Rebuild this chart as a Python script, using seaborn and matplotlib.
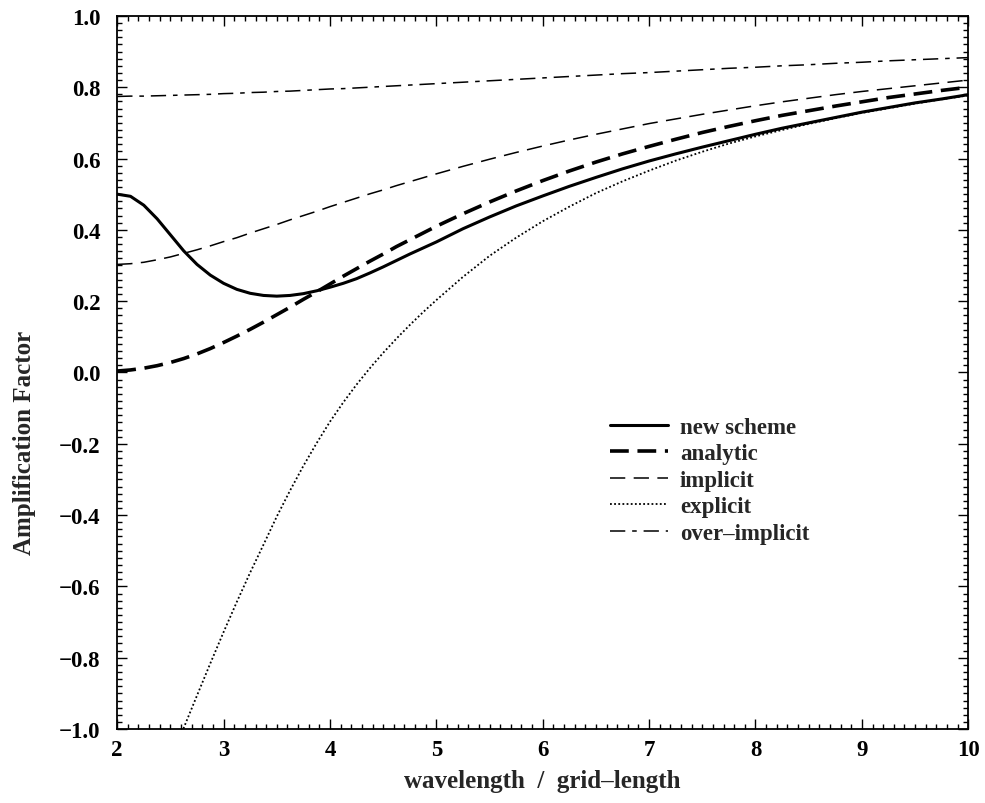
import numpy as np
import pandas as pd
import matplotlib
matplotlib.use("Agg")
import matplotlib.pyplot as plt
import seaborn as sns
from matplotlib.ticker import MultipleLocator

# wavelength / grid-length
wavelength = [2.0, 2.125, 2.25, 2.375, 2.5, 2.625, 2.75, 2.875, 3.0, 3.125, 3.25, 3.375,
              3.5, 3.625, 3.75, 3.875, 4.0, 4.125, 4.25, 4.375, 4.5, 4.625, 4.75, 4.875,
              5.0, 5.25, 5.5, 5.75, 6.0, 6.25, 6.5, 6.75, 7.0, 7.25, 7.5, 7.75,
              8.0, 8.25, 8.5, 8.75, 9.0, 9.25, 9.5, 9.75, 10.0]

new_scheme = [0.500, 0.494, 0.469, 0.431, 0.386, 0.341, 0.303, 0.273, 0.250, 0.233, 0.222, 0.216,
              0.214, 0.216, 0.221, 0.229, 0.239, 0.250, 0.263, 0.279, 0.296, 0.314, 0.332, 0.349,
              0.366, 0.403, 0.436, 0.467, 0.495, 0.522, 0.547, 0.571, 0.593, 0.613, 0.632, 0.650,
              0.668, 0.685, 0.700, 0.715, 0.730, 0.743, 0.756, 0.767, 0.779]

analytic = [0.004, 0.007, 0.012, 0.019, 0.028, 0.039, 0.052, 0.067, 0.084, 0.102, 0.121, 0.141,
            0.162, 0.183, 0.205, 0.226, 0.248, 0.270, 0.291, 0.312, 0.332, 0.353, 0.372, 0.391,
            0.410, 0.445, 0.478, 0.509, 0.538, 0.565, 0.590, 0.613, 0.634, 0.654, 0.673, 0.690,
            0.706, 0.721, 0.734, 0.747, 0.759, 0.771, 0.781, 0.791, 0.800]

implicit = [0.303, 0.305, 0.309, 0.316, 0.324, 0.334, 0.344, 0.355, 0.367, 0.378, 0.391, 0.403,
            0.415, 0.428, 0.440, 0.452, 0.465, 0.477, 0.489, 0.501, 0.512, 0.524, 0.535, 0.546,
            0.557, 0.578, 0.598, 0.617, 0.635, 0.652, 0.668, 0.683, 0.698, 0.711, 0.724, 0.736,
            0.748, 0.759, 0.769, 0.779, 0.788, 0.796, 0.804, 0.812, 0.820]

explicit = [-1.304, -1.284, -1.235, -1.165, -1.084, -0.997, -0.906, -0.816, -0.728, -0.643, -0.561, -0.483,
            -0.404, -0.331, -0.262, -0.198, -0.138, -0.084, -0.034, 0.012, 0.055, 0.095, 0.133, 0.169,
            0.203, 0.268, 0.327, 0.378, 0.424, 0.465, 0.503, 0.536, 0.566, 0.594, 0.619, 0.642,
            0.662, 0.680, 0.697, 0.713, 0.728, 0.741, 0.754, 0.766, 0.777]

over_implicit = [0.774, 0.775, 0.775, 0.776, 0.777, 0.778, 0.779, 0.780, 0.782, 0.783, 0.785, 0.786,
                 0.788, 0.789, 0.791, 0.793, 0.795, 0.796, 0.798, 0.800, 0.802, 0.804, 0.806, 0.808,
                 0.810, 0.814, 0.818, 0.822, 0.826, 0.830, 0.834, 0.838, 0.841, 0.845, 0.849, 0.853,
                 0.856, 0.860, 0.863, 0.867, 0.870, 0.874, 0.877, 0.880, 0.883]

series_names = ["new scheme", "analytic", "implicit", "explicit", "over\u2013implicit"]

sns.set_style("ticks")
plt.rcParams["font.family"] = ["Liberation Serif", "DejaVu Serif"]
plt.rcParams["font.weight"] = "bold"
plt.rcParams["axes.labelweight"] = "bold"
plt.rcParams["axes.unicode_minus"] = True

fig = plt.figure(figsize=(9.85, 8.04), dpi=100)
ax = fig.add_axes([0.119, 0.092, 0.864, 0.887])

styles = [
    dict(lw=2.2, linestyle="-"),
    dict(lw=2.6, linestyle=(0, (5.2, 2.4))),
    dict(lw=1.1, linestyle=(0, (10, 5.5))),
    dict(lw=1.3, linestyle=(0, (1.0, 1.3))),
    dict(lw=1.1, linestyle=(0, (10, 4.5, 3, 4.5))),
]
data = [new_scheme, analytic, implicit, explicit, over_implicit]

for name, vals, st in zip(series_names, data, styles):
    sns.lineplot(x=wavelength, y=vals, ax=ax, color="black", label=name, **st)

ax.set_xlim(2, 10)
ax.set_ylim(-1.0, 1.0)
ax.xaxis.set_major_locator(MultipleLocator(1))
ax.xaxis.set_minor_locator(MultipleLocator(0.1))
ax.yaxis.set_major_locator(MultipleLocator(0.2))
ax.yaxis.set_minor_locator(MultipleLocator(0.02))
ax.tick_params(which="both", direction="in", top=True, right=True, width=1.0,
               labelsize=16.5, colors="black")
ax.tick_params(which="major", length=7)
ax.tick_params(which="minor", length=3.5)
ax.tick_params(axis="y", which="major", pad=12)
ax.tick_params(axis="x", which="major", pad=7)
for lab in ax.get_xticklabels() + ax.get_yticklabels():
    lab.set_fontweight("bold")
for sp in ax.spines.values():
    sp.set_linewidth(1.3)
    sp.set_color("black")

ax.set_xlabel("wavelength  /  grid\u2013length", fontsize=18, fontweight="bold", labelpad=7)
ax.set_ylabel("Amplification Factor", fontsize=18, fontweight="bold")
ax.yaxis.set_label_coords(-0.095, 0.4025)

leg = ax.legend(loc="upper left", bbox_to_anchor=(0.579, 0.438), frameon=False,
                handlelength=2.53, handletextpad=0.52, labelspacing=0.24,
                borderpad=0, borderaxespad=0,
                prop={"family": "Liberation Serif", "weight": "bold", "size": 16.5})

fig.savefig("out.png", dpi=100)
